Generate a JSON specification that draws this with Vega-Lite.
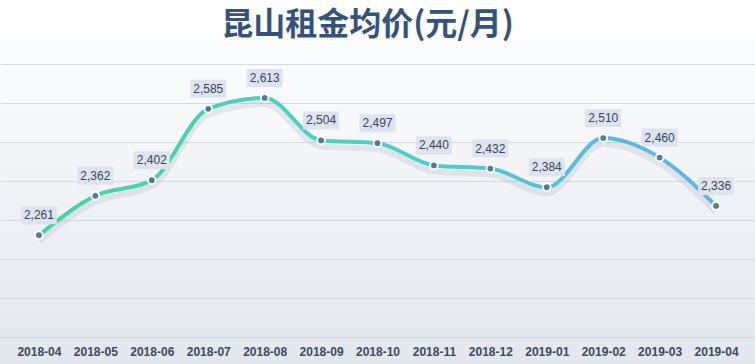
{
  "$schema": "https://vega.github.io/schema/vega-lite/v6.json",
  "width": 755,
  "height": 364,
  "autosize": {"type": "none"},
  "padding": 0,
  "background": "#ffffff",
  "view": {
    "stroke": null,
    "fill": {"gradient": "linear", "x1": 0, "y1": 0, "x2": 0, "y2": 1,
      "stops": [{"offset": 0, "color": "#ffffff"}, {"offset": 1, "color": "#e2e7ee"}]}
  },
  "title": {
    "text": "昆山租金均价(元/月)",
    "font": "Noto Sans CJK SC",
    "fontSize": 32,
    "fontWeight": "bold",
    "color": "#35527a",
    "anchor": "middle",
    "baseline": "top",
    "offset": -42,
    "dx": -10
  },
  "data": {
    "values": [
      {"month": "2018-04", "price": 2261},
      {"month": "2018-05", "price": 2362},
      {"month": "2018-06", "price": 2402},
      {"month": "2018-07", "price": 2585},
      {"month": "2018-08", "price": 2613},
      {"month": "2018-09", "price": 2504},
      {"month": "2018-10", "price": 2497},
      {"month": "2018-11", "price": 2440},
      {"month": "2018-12", "price": 2432},
      {"month": "2019-01", "price": 2384},
      {"month": "2019-02", "price": 2510},
      {"month": "2019-03", "price": 2460},
      {"month": "2019-04", "price": 2336}
    ]
  },
  "encoding": {
    "x": {
      "field": "month",
      "type": "ordinal",
      "scale": {"type": "point", "padding": 0.69},
      "axis": {
        "title": null,
        "orient": "bottom",
        "offset": -27,
        "domain": false,
        "ticks": false,
        "tickSize": 0,
        "grid": false,
        "labelPadding": 9,
        "labelAngle": 0,
        "labelFont": "Liberation Sans",
        "labelFontSize": 12,
        "labelFontWeight": "bold",
        "labelColor": "#3d4a5c"
      }
    },
    "y": {
      "field": "price",
      "type": "quantitative",
      "scale": {"domain": [1930.77, 2864.1], "nice": false, "zero": false},
      "axis": {
        "title": null,
        "values": [2000, 2100, 2200, 2300, 2400, 2500, 2600, 2700],
        "labels": false,
        "ticks": false,
        "domain": false,
        "grid": true,
        "gridColor": "#d3d9e1",
        "gridWidth": 1
      }
    }
  },
  "layer": [
    {
      "mark": {"type": "line", "interpolate": "monotone", "stroke": "#9ea9b6", "strokeWidth": 6, "opacity": 0.22, "yOffset": 6}
    },
    {
      "mark": {
        "type": "line",
        "interpolate": "monotone",
        "strokeWidth": 4,
        "stroke": {"gradient": "linear", "x1": 0, "y1": 0, "x2": 1, "y2": 0,
          "stops": [
            {"offset": 0, "color": "#45d4a0"},
            {"offset": 0.5, "color": "#4ed0c6"},
            {"offset": 1, "color": "#62b2e6"}
          ]}
      }
    },
    {
      "mark": {"type": "point", "filled": true, "fill": "#4f7e92", "stroke": "#ffffff", "strokeWidth": 2, "size": 60, "opacity": 1}
    },
    {
      "mark": {"type": "point", "shape": "M-1,-0.5L1,-0.5L1,0.5L-1,0.5Z", "size": 1296, "filled": true, "fill": "#dde4ed", "opacity": 1, "strokeWidth": 0, "yOffset": -20}
    },
    {
      "mark": {"type": "text", "font": "Liberation Sans", "fontSize": 12, "color": "#35455a", "baseline": "middle", "align": "center", "yOffset": -20},
      "encoding": {"text": {"field": "price", "type": "quantitative", "format": ","}}
    }
  ]
}
